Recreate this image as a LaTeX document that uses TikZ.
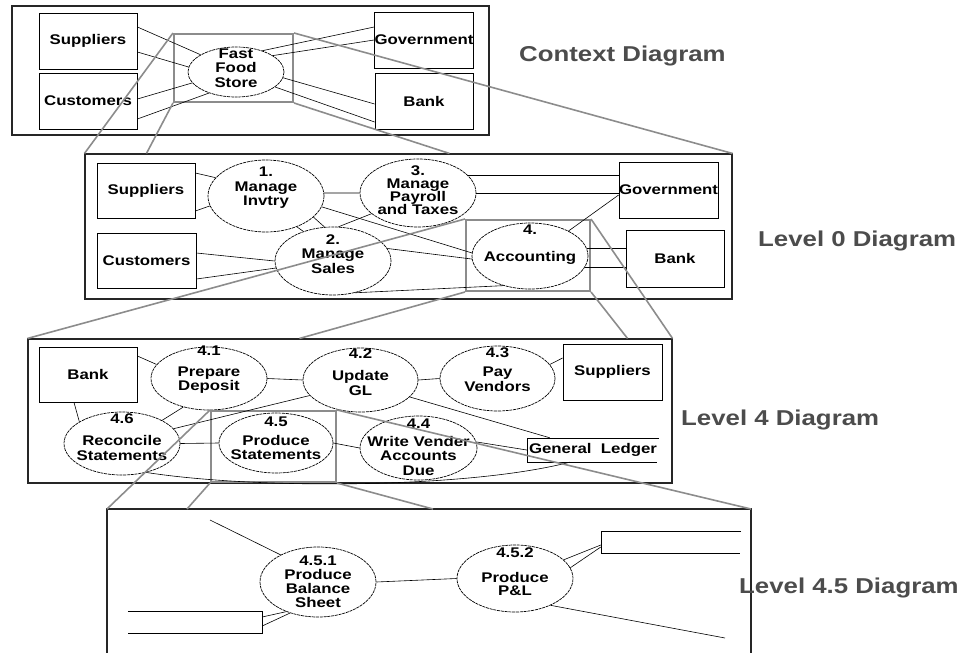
\documentclass[tikz,border=0pt]{standalone}
\usepackage{fontspec}
\setmainfont{Liberation Sans}[FakeStretch=1.2]
\usetikzlibrary{shapes.geometric}

\newcommand{\dfdlabel}{\bfseries\fontsize{14}{14.5}\selectfont}
\newcommand{\dfdtitle}{\bfseries\fontsize{21.5}{24}\selectfont}

\tikzset{
  frame/.style={draw=black!85, line width=1.1pt, inner sep=0pt},
  hilite/.style={draw=black!45, line width=2pt, inner sep=0pt},
  zoomline/.style={draw=black!45, line width=1.6pt},
  ext/.style={draw, line width=0.8pt, inner sep=0pt, font=\dfdlabel},
  proc/.style={draw, ellipse, line width=0.7pt, dash pattern=on 3pt off 0.8pt, inner sep=0pt},
  ptxt/.style={align=center, font=\dfdlabel, inner sep=0pt},
  flow/.style={draw, line width=0.6pt},
  store/.style={inner sep=0pt, font=\dfdlabel},
  title/.style={anchor=base west, text=black!70, font=\dfdtitle, inner sep=0pt},
}

\begin{document}
\begin{tikzpicture}[x=1pt,y=-1pt]
\useasboundingbox (0,0) rectangle (961,653);

% Context diagram
\node[frame, minimum width=477pt, minimum height=129pt] (fctx) at (250.5,70.5) {};
\node[ext, minimum width=98pt, minimum height=56pt] (csup) at (88,41) {Suppliers};
\node[ext, minimum width=98pt, minimum height=56pt] (ccus) at (88,101) {Customers};
\node[ext, minimum width=98pt, minimum height=56pt] (cgov) at (424,40) {Government};
\node[ext, minimum width=98pt, minimum height=56pt] (cbank) at (424,101) {Bank};
\node[proc, minimum width=96pt, minimum height=50pt] (cfs) at (236,72) {};
\node[ptxt] (cfst) at ([yshift=4pt]cfs) {Fast\\Food\\Store};
\node[hilite, minimum width=119pt, minimum height=68pt] (zc) at (233.5,68) {};
\node[title] (tctx) at (519,61) {Context Diagram};

\draw[flow] ([yshift=14pt]csup.east) -- (cfs.154);
\draw[flow] ([yshift=-11pt]csup.east) -- (cfs.174);
\draw[flow] ([yshift=2pt]ccus.east) -- (cfs.194);
\draw[flow] ([yshift=-18pt]ccus.east) -- (cfs.218);
\draw[flow] ([yshift=13pt]cgov.west) -- (cfs.39);
\draw[flow] (cgov.west) -- (cfs.24);
\draw[flow] ([yshift=-3pt]cbank.west) -- (cfs.-7);
\draw[flow] ([yshift=-21pt]cbank.west) -- (cfs.-21);

% Level 0
\node[frame, minimum width=647pt, minimum height=145pt] (f0) at (408.5,226.5) {};
\node[ext, minimum width=98pt, minimum height=55pt] (sup0) at (146,190.5) {Suppliers};
\node[ext, minimum width=99pt, minimum height=55pt] (cus0) at (146.5,260.5) {Customers};
\node[ext, minimum width=99pt, minimum height=56pt] (gov0) at (668.5,190) {Government};
\node[ext, minimum width=98pt, minimum height=57pt] (bank0) at (675,258.5) {Bank};
\node[proc, minimum width=116pt, minimum height=72pt] (p1) at (266,196) {};
\node[proc, minimum width=116pt, minimum height=68pt] (p3) at (418,193) {};
\node[proc, minimum width=116pt, minimum height=68pt] (p2) at (333,261) {};
\node[proc, minimum width=116pt, minimum height=66pt] (p4) at (530,256) {};
\node[ptxt] (p1t) at ([yshift=8pt]p1) {1.\\Manage\\Invtry};
\node[ptxt] (p3t) at ([yshift=2.5pt]p3) {3.\\[-1.5pt]Manage\\[-1.5pt]Payroll\\[-1.5pt]and Taxes};
\node[ptxt] (p2t) at ([yshift=7pt]p2) {2.\\Manage\\Sales};
\node[ptxt] (p4t) at ([yshift=11.5pt]p4) {4.\\[12pt]Accounting};
\node[hilite, minimum width=124pt, minimum height=71pt] (zd) at (528,255.5) {};
\node[title] (t0) at (758,246) {Level 0 Diagram};

\draw[flow] ([yshift=17.5pt]sup0.east) -- (p1.160);
\draw[flow] ([yshift=-20.5pt]sup0.east) -- (p1.190);
\draw[flow] (p1.3) -- (p3.180);
\draw[flow] (p1.-24) -- (p2.104);
\draw[flow] (p1.-45) -- (p2.135);
\draw[flow] (p3.204) -- (p2.81);
\draw[flow] (p1.-11.5) -- (p4.177);
\draw[flow] (p2.13) -- (p4.183);
\draw[flow] ([yshift=7.5pt]cus0.east) -- (p2.180);
\draw[flow] ([yshift=-18.5pt]cus0.east) -- (p2.187);
\draw[flow] (p2.-55) -- (p4.228);
\draw[flow] (p3.20) -- (p3.20 -| gov0.west);
\draw[flow] (p3.east) -- (p3.east -| gov0.west);
\draw[flow] (p4.33) -- ([yshift=-5pt]gov0.west);
\draw[flow] (p4.8) -- (p4.8 -| bank0.west);
\draw[flow] (p4.-12) -- (p4.-12 -| bank0.west);

% Level 4
\node[frame, minimum width=644pt, minimum height=144pt] (f4) at (350,411) {};
\node[ext, minimum width=98pt, minimum height=55pt] (bank4) at (88,374.5) {Bank};
\node[ext, minimum width=99pt, minimum height=56pt] (sup4) at (612.5,372) {Suppliers};
\node[proc, minimum width=116pt, minimum height=63pt] (q1) at (209,378.5) {};
\node[proc, minimum width=115pt, minimum height=64pt] (q2) at (360.5,380) {};
\node[proc, minimum width=115pt, minimum height=65pt] (q3) at (497.5,378.5) {};
\node[proc, minimum width=116pt, minimum height=63pt] (q6) at (122,443.5) {};
\node[proc, minimum width=114pt, minimum height=60pt] (q5) at (276,443) {};
\node[proc, minimum width=117pt, minimum height=64pt] (q4) at (418.5,448) {};
\node[ptxt] (q1t) at ([yshift=8.5pt]q1) {4.1\\[6pt]Prepare\\Deposit};
\node[ptxt] (q2t) at ([yshift=8pt]q2) {4.2\\[8pt]Update\\GL};
\node[ptxt] (q3t) at ([yshift=9pt]q3) {4.3\\[5pt]Pay\\Vendors};
\node[ptxt] (q6t) at ([yshift=6.5pt]q6) {4.6\\[8pt]Reconcile\\Statements};
\node[ptxt] (q5t) at ([yshift=4.5pt]q5) {4.5\\[4pt]Produce\\Statements};
\node[ptxt] (q4t) at ([yshift=1pt]q4) {4.4\\[3pt]Write Vender\\Accounts\\Due};
\node[store, minimum width=132pt, minimum height=24pt] (gl) at (593,450) {General\ \ Ledger};
\node[hilite, minimum width=125pt, minimum height=71pt] (ze) at (273.5,446.5) {};
\node[title] (t4) at (681,425) {Level 4 Diagram};

\draw[flow] ([yshift=18.5pt]bank4.east) -- (q1.165);
\draw[flow] ([xshift=-14pt]bank4.south) -- (q6.153);
\draw[flow] (q1.east) -- (q2.west);
\draw[flow] (q2.east) -- (q3.west);
\draw[flow] (q3.15) -- ([yshift=14pt]sup4.west);
\draw[flow] (q1.228) -- (q6.30);
\draw[flow] (q2.197) -- (q6.16);
\draw[flow] (q6.east) -- (q5.west);
\draw[flow] (q5.east) -- (q4.west);
\draw[flow] (q2.-19) -- ([xshift=23pt]gl.north west);
\draw[flow] (q4.6) -- (gl.west);
\draw[flow] (q6.-50) .. controls (260,490) and (470,488) .. ([xshift=43pt]gl.south west);
\draw[flow] (gl.north east) -- (gl.north west) -- (gl.south west) -- ([xshift=-2pt]gl.south east);

% Level 4.5
\coordinate (f45nw) at (107,509);
\coordinate (f45ne) at (751,509);
\draw[frame] (107,653) -- (f45nw) -- (f45ne) -- (751,653);
\node[proc, minimum width=116pt, minimum height=70pt] (r1) at (318,582) {};
\node[proc, minimum width=116pt, minimum height=67pt] (r2) at (515,578.5) {};
\node[ptxt] (r1t) at (r1) {4.5.1\\[-0.5pt]Produce\\[-0.5pt]Balance\\[-0.5pt]Sheet};
\node[ptxt] (r2t) at ([yshift=7pt]r2) {4.5.2\\[10pt]Produce\\[-1.5pt]P\&L};
\node[store, minimum width=134pt, minimum height=22pt] (bs) at (195,622) {};
\node[store, minimum width=142pt, minimum height=22pt] (pl) at (672,542) {};
\coordinate (bsin) at (210,520);
\coordinate (plout) at (725,638);
\node[title] (t45) at (739,593) {Level 4.5 Diagram};

\draw[flow] (r1.east) -- (r2.west);
\draw[flow] (r1.144) -- (bsin);
\draw[flow] (r1.223) -- ([yshift=5pt]bs.east);
\draw[flow] (r1.228) -- ([yshift=-4pt]bs.east);
\draw[flow] (bs.north west) -- (bs.north east) -- (bs.south east) -- (bs.south west);
\draw[flow] ([xshift=-2pt]pl.north east) -- (pl.north west) -- (pl.south west) -- ([xshift=-3pt]pl.south east);
\draw[flow] (r2.21) -- ([yshift=-3pt]pl.west);
\draw[flow] (r2.11) -- ([yshift=-5pt]pl.west);
\draw[flow] (r2.-37) -- (plout);

% Zoom lines between levels
\draw[zoomline] (zc.north west) -- (f0.north west);
\draw[zoomline] (zc.south west) -- ([xshift=62pt]f0.north west);
\draw[zoomline] (zc.north east) -- (f0.north east);
\draw[zoomline] (zc.south east) -- ([xshift=365pt]f0.north west);
\draw[zoomline] (zd.north west) -- (f4.north west);
\draw[zoomline] (zd.south west) -- ([xshift=272pt]f4.north west);
\draw[zoomline] (zd.north east) -- (f4.north east);
\draw[zoomline] (zd.south east) -- ([xshift=-45pt]f4.north east);
\draw[zoomline] (ze.north west) -- (f45nw);
\draw[zoomline] (ze.south west) -- ([xshift=80pt]f45nw);
\draw[zoomline] (ze.north east) -- (f45ne);
\draw[zoomline] (ze.south east) -- ([xshift=326pt]f45nw);

\end{tikzpicture}
\end{document}
